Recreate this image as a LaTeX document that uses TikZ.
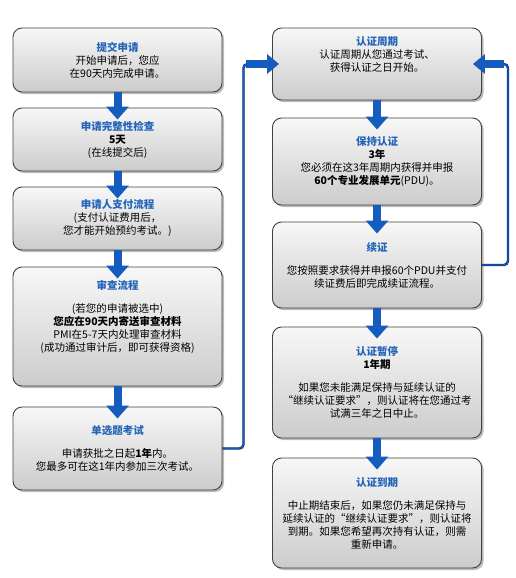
\documentclass[tikz,border=0pt]{standalone}
\usepackage{fontspec}
\setmainfont{Noto Sans CJK SC}
\usepackage{xcolor}
\usepackage{tikz}
\usetikzlibrary{arrows.meta,shadows}
\definecolor{titleblue}{RGB}{35,100,185}
\definecolor{flowblue}{RGB}{20,92,190}
\definecolor{rimgray}{RGB}{70,66,58}
\newcommand{\boxtitle}[1]{{\bfseries\color{titleblue}#1}}

\begin{document}
\begin{tikzpicture}[x=1pt,y=-1pt,font=\fontsize{10.5}{13}\selectfont,
  stage/.style={draw=rimgray,line width=0.9pt,rounded corners=9pt,top color=black!3,middle color=black!14,bottom color=black!20,
    drop shadow={shadow xshift=2pt,shadow yshift=-2pt,opacity=0.45,fill=black!60},
    minimum width=209pt,align=center,inner sep=2pt},
  flow/.style={flowblue,line width=8pt,-{Triangle[length=13pt,width=22pt]}},
  loopline/.style={draw=flowblue!50!black,double=flowblue,double distance=1.2pt,line width=0.6pt,rounded corners=4pt}]
  \useasboundingbox (0,0) rectangle (515,578);
  \node[stage,minimum height=64pt] (apply) at (117.5,60) {\boxtitle{提交申请}\\开始申请后，您应\\在90天内完成申请。};
  \node[stage,minimum height=63pt] (check) at (117.5,139.5) {\boxtitle{申请完整性检查}\\\textbf{5天}\\(在线提交后)};
  \node[stage,minimum height=63pt] (pay) at (117.5,218.5) {\boxtitle{申请人支付流程}\\(支付认证费用后，\\您才能开始预约考试。)};
  \node[stage,minimum height=119pt] (audit) at (117.5,326.5) {\boxtitle{审查流程}\\[10pt](若您的申请被选中)\\\textbf{您应在90天内寄送审查材料}\\PMI在5-7天内处理审查材料\\(成功通过审计后，即可获得资格)\\[8pt]};
  \node[stage,minimum height=83pt] (exam) at (117.5,448.5) {\boxtitle{单选题考试}\\[10pt]申请获批之日起\textbf{1年}内。\\您最多可在这1年内参加三次考试。};

  \node[stage,minimum height=72pt] (cycle) at (377,64) {\boxtitle{认证周期}\\认证周期从您通过考试、\\获得认证之日开始。\\[6pt]};
  \node[stage,minimum height=87pt] (keep) at (377,161.5) {\boxtitle{保持认证}\\\textbf{3年}\\您必须在这3年周期内获得并申报\\\textbf{60个专业发展单元}(PDU)。};
  \node[stage,minimum height=86pt] (renew) at (377,265) {\boxtitle{续证}\\[10pt]您按照要求获得并申报60个PDU并支付\\续证费后即完成续证流程。};
  \node[stage,minimum height=111pt] (suspend) at (377,382.5) {\boxtitle{认证暂停}\\\textbf{1年期}\\[10pt]如果您未能满足保持与延续认证的\\“继续认证要求”，则认证将在您通过考\\试满三年之日中止。};
  \node[stage,minimum height=110pt] (expire) at (377,513) {\boxtitle{认证到期}\\[10pt]中止期结束后，如果您仍未满足保持与\\延续认证的“继续认证要求”，则认证将\\到期。如果您希望再次持有认证，则需\\重新申请。};

  \foreach \a/\b in {apply/check,check/pay,pay/audit,audit/exam,cycle/keep,keep/renew,renew/suspend,suspend/expire}
    \draw[flow] (\a.south) -- ([yshift=-12pt]\b.north);

  \draw[loopline] (exam.east) -- ++(21,0) |- ([xshift=-26pt]cycle.west) coordinate (inleft);
  \draw[flow,-{Triangle[length=12pt,width=19pt]}] (inleft) -- ([xshift=7pt]cycle.west);
  \draw[loopline] (renew.east) -- ++(26,0) |- ([xshift=22pt]cycle.east) coordinate (inright);
  \draw[flow,-{Triangle[length=12pt,width=19pt]}] (inright) -- ([xshift=-9pt]cycle.east);
\end{tikzpicture}
\end{document}
